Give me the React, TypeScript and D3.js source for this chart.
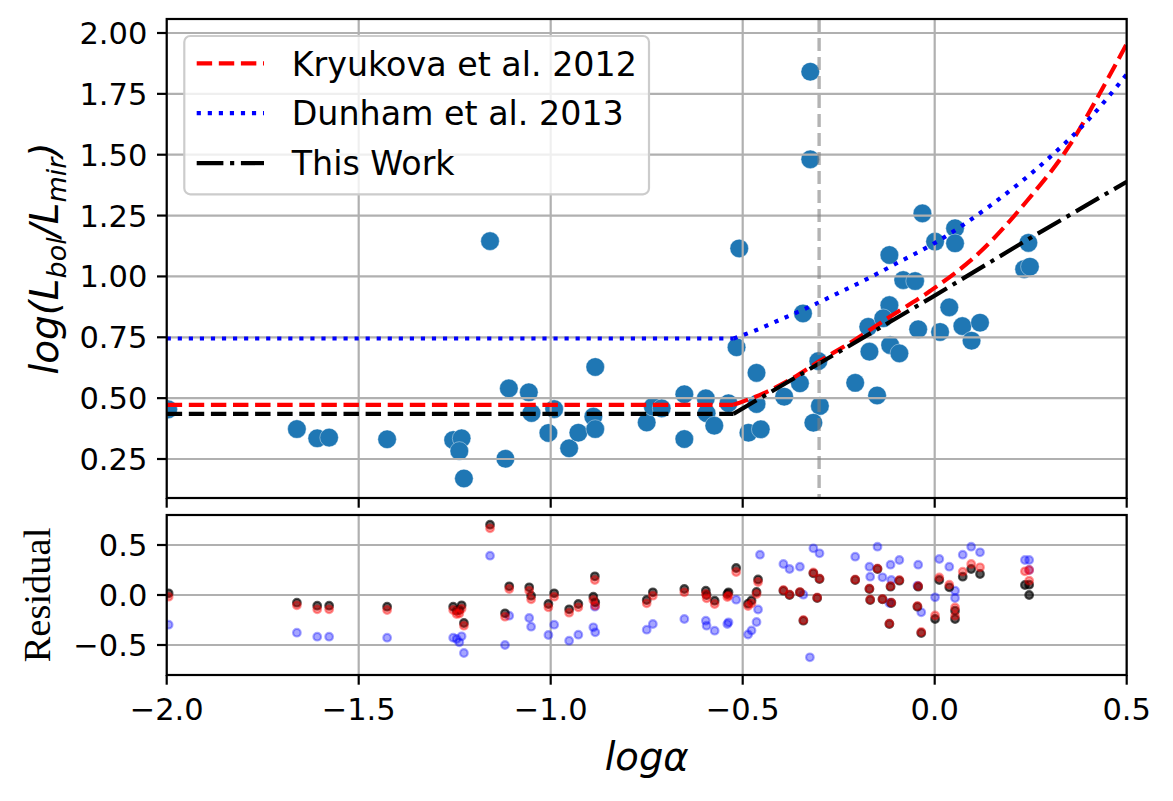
import React, { useEffect, useRef } from 'react';
import * as d3 from 'd3';

// sources: log(alpha) vs log(Lbol/Lmir)
const logAlpha = [
  -1.996, -1.661, -1.608, -1.577, -1.426, -1.254, -1.232, -1.238, -1.226, -1.158,
  -1.109, -1.118, -1.057, -1.05, -1.006, -0.991, -0.952, -0.928, -0.884, -0.889,
  -0.884, -0.75, -0.734, -0.711, -0.652, -0.652, -0.596, -0.594, -0.574, -0.537,
  -0.516, -0.509, -0.464, -0.464, -0.485, -0.453, -0.392, -0.351, -0.303, -0.299,
  -0.316, -0.343, -0.324, -0.324, -0.207, -0.15, -0.17, -0.173, -0.118, -0.134,
  -0.116, -0.092, -0.082, -0.051, -0.043, 0.038, 0.014, 0.072, 0.118, 0.096,
  0.233, 0.248, 0.244, -0.032, 0.053, 0.053, 0.001, -0.118,
];
const logRatio = [
  0.454, 0.373, 0.335, 0.338, 0.331, 0.328, 0.335, 0.283, 0.17, 1.145,
  0.54, 0.251, 0.524, 0.439, 0.357, 0.455, 0.294, 0.358, 0.628, 0.424,
  0.373, 0.4, 0.465, 0.458, 0.516, 0.332, 0.499, 0.438, 0.387, 0.479,
  0.709, 1.115, 0.476, 0.604, 0.358, 0.372, 0.506, 0.561, 0.652, 0.468,
  0.399, 0.848, 1.841, 1.481, 0.563, 0.511, 0.691, 0.793, 0.882, 0.828,
  0.718, 0.684, 0.985, 0.981, 0.783, 0.873, 0.772, 0.796, 0.81, 0.736,
  1.03, 1.04, 1.138, 1.259, 1.198, 1.136, 1.143, 1.088,
];

// model relations, points
const kryFlatX = [-2, -0.524];
const kryFlatY = [0.4725, 0.4725];
const kryX = [-0.524, -0.446, -0.372, -0.3, -0.221, -0.116, -0.012, 0.118, 0.24, 0.352, 0.422, 0.5];
const kryY = [0.4725, 0.52, 0.58, 0.652, 0.727, 0.835, 0.94, 1.1, 1.31, 1.54, 1.73, 1.955];

const dunFlatX = [-2, -0.524];
const dunFlatY = [0.745, 0.745];
const dunX = [-0.524, -0.464, -0.4, -0.307, -0.247, -0.173, -0.099, 0.003, 0.144, 0.3, 0.404, 0.5];
const dunY = [0.745, 0.78, 0.824, 0.889, 0.935, 0.992, 1.054, 1.14, 1.29, 1.49, 1.65, 1.83];

const thisFlatX = [-2, -0.524];
const thisFlatY = [0.4355, 0.4355];
const thisX = [-0.524, -0.012, 0.248, 0.5];
const thisY = [0.4355, 0.91, 1.157, 1.389];

const alphaCut = -0.301;

// residuals (null = not shown)
const resX = [
  -1.995, -1.661, -1.608, -1.577, -1.426, -1.254, -1.245, -1.238, -1.232, -1.226,
  -1.158, -1.119, -1.108, -1.056, -1.051, -1.006, -0.991, -0.952, -0.928, -0.885,
  -0.889, -0.884, -0.75, -0.734, -0.652, -0.596, -0.594, -0.573, -0.537, -0.54,
  -0.517, -0.486, -0.477, -0.464, -0.46, -0.455, -0.394, -0.378, -0.351, -0.342,
  -0.325, -0.316, -0.306, -0.3, -0.207, -0.17, -0.168, -0.149, -0.136, -0.115,
  -0.113, -0.118, -0.092, -0.043, -0.045, -0.035, 0.001, 0.012, 0.038, 0.053,
  0.053, 0.073, 0.095, 0.118, 0.235, 0.246, 0.246,
];
const resThis = [
  0.017, -0.077, -0.107, -0.107, -0.117, -0.117, -0.157, -0.15, -0.103, -0.28,
  0.703, -0.183, 0.087, 0.077, -0.007, -0.09, 0.017, -0.143, -0.09, 0.187,
  -0.017, -0.073, -0.05, 0.027, 0.06, 0.043, 0.0, -0.057, 0.027, 0.01,
  0.27, -0.087, -0.055, 0.03, 0.155, null, 0.043, 0.0, 0.027, -0.257,
  null, 0.217, -0.03, 0.16, 0.15, 0.06, -0.05, 0.26, -0.043, 0.083,
  -0.08, -0.29, 0.143, 0.083, -0.117, -0.38, -0.24, 0.15, 0.077, -0.157,
  -0.24, 0.183, 0.26, 0.21, 0.1, 0.103, 0.0,
];
const resKry = [
  -0.017, -0.103, -0.143, -0.143, -0.15, -0.15, -0.19, -0.185, -0.137, -0.307,
  0.667, -0.217, 0.06, 0.043, -0.043, -0.123, -0.017, -0.177, -0.123, 0.15,
  -0.05, -0.107, -0.083, -0.007, 0.027, 0.01, -0.033, -0.09, -0.007, -0.02,
  0.23, -0.11, -0.083, 0.01, 0.13, null, 0.05, 0.005, 0.03, -0.25,
  null, 0.225, -0.025, 0.165, 0.155, 0.065, -0.045, 0.265, -0.04, 0.09,
  -0.075, -0.285, 0.15, 0.09, -0.11, -0.37, -0.205, 0.175, 0.103, -0.125,
  -0.207, 0.233, 0.31, 0.277, 0.237, 0.25, 0.143,
];
const resDun = [
  -0.297, -0.377, -0.417, -0.417, -0.427, -0.427, -0.44, -0.473, -0.413, -0.58,
  0.393, -0.5, -0.207, -0.23, -0.317, -0.4, -0.297, -0.457, -0.397, -0.117,
  -0.323, -0.373, -0.347, -0.29, -0.24, -0.257, -0.307, -0.357, -0.273, -0.29,
  -0.047, -0.395, -0.355, -0.27, -0.145, 0.403, 0.31, 0.26, 0.283, 0.003,
  -0.623, 0.467, null, 0.417, 0.383, 0.283, 0.183, 0.483, 0.177, 0.303,
  0.15, -0.08, 0.35, 0.303, 0.093, -0.173, -0.023, 0.36, 0.283, 0.043,
  -0.03, 0.403, 0.483, 0.427, 0.35, 0.35, 0.25,
];

const xTicks = [-2, -1.5, -1, -0.5, 0, 0.5];
const topTicks = [0.25, 0.5, 0.75, 1.0, 1.25, 1.5, 1.75, 2.0];
const resTicks = [-0.5, 0, 0.5];

const legendLabels = ['Kryukova et al. 2012', 'Dunham et al. 2013', 'This Work'];

const W = 1173;
const H = 801;
const FONT = 'DejaVu Sans, sans-serif';

export default function App() {
  const svgRef = useRef<SVGSVGElement | null>(null);

  useEffect(() => {
    if (!svgRef.current) return;
    const svg = d3.select(svgRef.current);
    svg.selectAll('*').remove();

    const left = 166.7;
    const right = 1126.7;
    const top1 = 19;
    const bot1 = 498;
    const top2 = 515;
    const bot2 = 675;

    const lw = 4.17;
    const dashed = `${3.7 * lw} ${1.6 * lw}`;
    const dotted = `${1 * lw} ${1.65 * lw}`;
    const dashDot = `${6.4 * lw} ${1.6 * lw} ${1 * lw} ${1.6 * lw}`;
    const gridColor = '#b0b0b0';
    const tickLen = 9.7;
    const tickFont = 30.5;

    const x = d3.scaleLinear().domain([-2, 0.5]).range([left, right]);
    const y1 = d3.scaleLinear().domain([0.0898, 2.0575]).range([bot1, top1]);
    const y2 = d3.scaleLinear().domain([-0.8, 0.8]).range([bot2, top2]);

    const defs = svg.append('defs');
    defs.append('clipPath').attr('id', 'clipTop')
      .append('rect').attr('x', left).attr('y', top1).attr('width', right - left).attr('height', bot1 - top1);
    defs.append('clipPath').attr('id', 'clipRes')
      .append('rect').attr('x', left).attr('y', top2).attr('width', right - left).attr('height', bot2 - top2);

    // ---------- top panel ----------
    const g1 = svg.append('g').attr('clip-path', 'url(#clipTop)');

    g1.selectAll('circle.src')
      .data(logAlpha.map((a, i) => [a, logRatio[i]]))
      .enter()
      .append('circle')
      .attr('class', 'src')
      .attr('cx', (d) => x(d[0]))
      .attr('cy', (d) => y1(d[1]))
      .attr('r', 9.3)
      .attr('fill', '#1f77b4')
      .attr('stroke', '#ffffff')
      .attr('stroke-opacity', 0.5)
      .attr('stroke-width', 0.8);

    const drawGrid = (g: d3.Selection<SVGGElement, unknown, null, undefined>, yScale: d3.ScaleLinear<number, number>, yTicks: number[], yTop: number, yBot: number) => {
      xTicks.forEach((t) => {
        g.append('line').attr('x1', x(t)).attr('x2', x(t)).attr('y1', yTop).attr('y2', yBot)
          .attr('stroke', gridColor).attr('stroke-width', 2.2);
      });
      yTicks.forEach((t) => {
        g.append('line').attr('x1', left).attr('x2', right).attr('y1', yScale(t)).attr('y2', yScale(t))
          .attr('stroke', gridColor).attr('stroke-width', 2.2);
      });
    };
    drawGrid(g1, y1, topTicks, top1, bot1);

    const path = (xs: number[], ys: number[], curve: d3.CurveFactory) =>
      d3.line<number>()
        .x((d) => x(xs[d]))
        .y((d) => y1(ys[d]))
        .curve(curve)(d3.range(xs.length)) as string;

    const drawCurve = (xs: number[], ys: number[], curve: d3.CurveFactory, color: string, dash: string) => {
      g1.append('path')
        .attr('d', path(xs, ys, curve))
        .attr('fill', 'none')
        .attr('stroke', color)
        .attr('stroke-width', lw)
        .attr('stroke-dasharray', dash);
    };

    drawCurve(kryFlatX, kryFlatY, d3.curveLinear, 'red', dashed);
    drawCurve(kryX, kryY, d3.curveMonotoneX, 'red', dashed);
    drawCurve(dunFlatX, dunFlatY, d3.curveLinear, 'blue', dotted);
    drawCurve(dunX, dunY, d3.curveMonotoneX, 'blue', dotted);
    drawCurve(thisFlatX, thisFlatY, d3.curveLinear, 'black', dashed);
    drawCurve(thisX, thisY, d3.curveLinear, 'black', dashDot);

    g1.append('line')
      .attr('x1', x(alphaCut)).attr('x2', x(alphaCut))
      .attr('y1', top1).attr('y2', bot1)
      .attr('stroke', 'gray').attr('stroke-opacity', 0.6)
      .attr('stroke-width', 3.4)
      .attr('stroke-dasharray', '13 6');

    // ---------- residual panel ----------
    const g2 = svg.append('g').attr('clip-path', 'url(#clipRes)');
    drawGrid(g2, y2, resTicks, top2, bot2);

    const drawRes = (vals: (number | null)[], color: string, alpha: number) => {
      g2.append('g')
        .selectAll('circle')
        .data(resX.map((a, i) => [a, vals[i]]).filter((d) => d[1] !== null) as number[][])
        .enter()
        .append('circle')
        .attr('cx', (d) => x(d[0]))
        .attr('cy', (d) => y2(d[1]))
        .attr('r', 3.8)
        .attr('fill', color)
        .attr('fill-opacity', alpha)
        .attr('stroke', color)
        .attr('stroke-opacity', alpha)
        .attr('stroke-width', 2.2);
    };
    drawRes(resDun, 'blue', 0.35);
    drawRes(resThis, 'black', 0.65);
    drawRes(resKry, 'red', 0.4);

    // ---------- frames, ticks, labels ----------
    const frame = (yTop: number, yBot: number) => {
      svg.append('rect')
        .attr('x', left).attr('y', yTop)
        .attr('width', right - left).attr('height', yBot - yTop)
        .attr('fill', 'none').attr('stroke', 'black').attr('stroke-width', 2.2);
    };
    frame(top1, bot1);
    frame(top2, bot2);

    const fmt1 = d3.format('.1f');
    const fmt2 = d3.format('.2f');

    [bot1, bot2].forEach((yb, k) => {
      xTicks.forEach((t) => {
        svg.append('line').attr('x1', x(t)).attr('x2', x(t)).attr('y1', yb).attr('y2', yb + tickLen)
          .attr('stroke', 'black').attr('stroke-width', 2.2);
        if (k === 1) {
          svg.append('text')
            .attr('x', x(t)).attr('y', yb + 44.5)
            .attr('text-anchor', 'middle')
            .attr('font-family', FONT).attr('font-size', tickFont)
            .text(fmt1(t));
        }
      });
    });

    const yAxis = (yScale: d3.ScaleLinear<number, number>, ticks: number[], fmt: (n: number) => string) => {
      ticks.forEach((t) => {
        svg.append('line').attr('x1', left - tickLen).attr('x2', left).attr('y1', yScale(t)).attr('y2', yScale(t))
          .attr('stroke', 'black').attr('stroke-width', 2.2);
        svg.append('text')
          .attr('x', left - tickLen - 9.7).attr('y', yScale(t))
          .attr('dy', '0.36em')
          .attr('text-anchor', 'end')
          .attr('font-family', FONT).attr('font-size', tickFont)
          .text(fmt(t));
      });
    };
    yAxis(y1, topTicks, fmt2);
    yAxis(y2, resTicks, fmt1);

    // y label (top)
    const yl = svg.append('text')
      .attr('transform', `translate(58, ${(top1 + bot1) / 2}) rotate(-90)`)
      .attr('text-anchor', 'middle')
      .attr('font-family', FONT).attr('font-size', 38.9)
      .attr('font-style', 'italic');
    yl.append('tspan').text('log(L');
    yl.append('tspan').attr('font-size', 27).attr('dy', 8).text('bol');
    yl.append('tspan').attr('dy', -8).text('/L');
    yl.append('tspan').attr('font-size', 27).attr('dy', 8).text('mir');
    yl.append('tspan').attr('dy', -8).text(')');

    // y label (residual)
    svg.append('text')
      .attr('transform', `translate(50, ${(top2 + bot2) / 2}) rotate(-90)`)
      .attr('text-anchor', 'middle')
      .attr('font-family', 'Liberation Serif, serif').attr('font-size', 38.5)
      .text('Residual');

    // x label
    svg.append('text')
      .attr('x', (left + right) / 2).attr('y', 770)
      .attr('text-anchor', 'middle')
      .attr('font-family', FONT).attr('font-size', 38.5)
      .attr('font-style', 'italic')
      .text('logα');

    // legend
    const lg = svg.append('g');
    lg.append('rect')
      .attr('x', 184.3).attr('y', 36).attr('width', 464.7).attr('height', 158.3)
      .attr('rx', 6).attr('fill', 'white').attr('fill-opacity', 0.8)
      .attr('stroke', '#cccccc').attr('stroke-width', 2.2);
    const styles = [
      { color: 'red', dash: dashed },
      { color: 'blue', dash: dotted },
      { color: 'black', dash: dashDot },
    ];
    legendLabels.forEach((label, i) => {
      const ry = 63.3 + i * 49.9;
      lg.append('line')
        .attr('x1', 196.7).attr('x2', 264).attr('y1', ry).attr('y2', ry)
        .attr('stroke', styles[i].color).attr('stroke-width', lw)
        .attr('stroke-dasharray', styles[i].dash);
      lg.append('text')
        .attr('x', 291.7).attr('y', ry + 12.2)
        .attr('font-family', FONT).attr('font-size', 33.3)
        .text(label);
    });
  }, []);

  return (
    <svg
      ref={svgRef}
      width={W}
      height={H}
      style={{ position: 'absolute', left: 0, top: 0, background: 'white' }}
    ></svg>
  );
}
